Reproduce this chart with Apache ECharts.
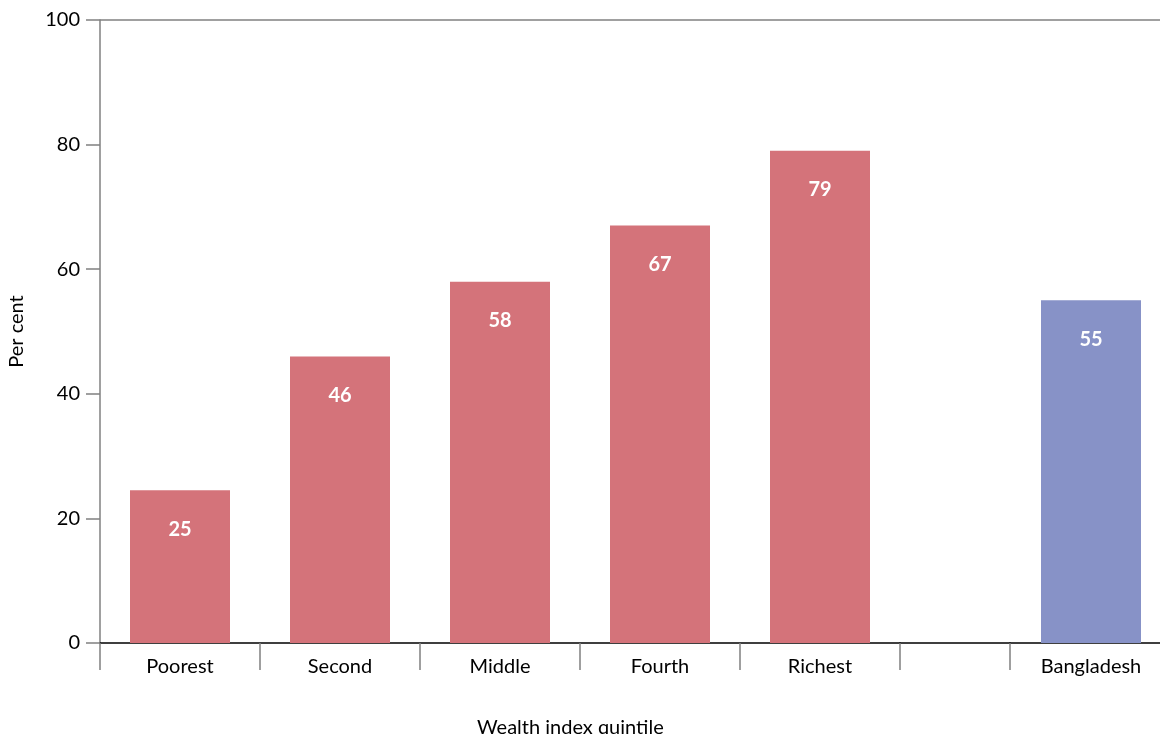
<!DOCTYPE html>
<html><head><meta charset="utf-8">
<script src="https://cdn.jsdelivr.net/npm/echarts@6/dist/echarts.min.js"></script>
<style>html,body{margin:0;padding:0;background:#fff}#c{width:1160px;height:734px}</style>
</head><body><div id="c"></div>
<script>
const quintiles = ['Poorest', 'Second', 'Middle', 'Fourth', 'Richest'];
const quintileValues = [24.5, 46, 58, 67, 79];
const nationalLabel = ['Bangladesh'];
const nationalValue = [55];
const yMin = 0, yMax = 100, yStep = 20;
const xTitle = 'Wealth index quintile';
const yTitle = 'Per cent';

const FONT = 'Lato';
const RED = '#D4737A', BLUE = '#8792C7', GREY = '#808080';
const T = 'rgba(0,0,0,0)';
const topBorder = [T, T, T, T, T, GREY];

function yAx(grid, visible) {
  return {
    type: 'value', gridIndex: grid, min: yMin, max: yMax, interval: yStep,
    axisLine: { show: visible, lineStyle: { color: GREY, width: 1.5 } },
    axisTick: { show: visible, length: 14, lineStyle: { color: GREY, width: 1.5 } },
    axisLabel: { show: visible, fontFamily: FONT, fontSize: 20, color: '#000', margin: 20 },
    splitLine: { show: true, lineStyle: { color: topBorder, width: 1.5 } },
    name: visible ? yTitle : '', nameLocation: 'middle', nameGap: 73,
    nameTextStyle: { fontFamily: FONT, fontSize: 20, color: '#000' }
  };
}
function xAx(grid, data, ticks) {
  return {
    type: 'category', gridIndex: grid, data: data,
    axisLine: { show: true, lineStyle: { color: '#000', width: 1.5 } },
    axisTick: { show: ticks, length: 27, lineStyle: { color: GREY, width: 1.5 } },
    axisLabel: { show: ticks, fontFamily: FONT, fontSize: 20, color: '#000', margin: 14 }
  };
}
const barLabel = {
  show: true, position: 'insideTop', distance: 29,
  fontFamily: FONT, fontSize: 20, fontWeight: 'bold', color: '#fff',
  formatter: p => Math.round(p.value)
};
const G = { top: 20, bottom: 91, outerBoundsMode: 'none', containLabel: false };

const chart = echarts.init(document.getElementById('c'), null, { renderer: 'canvas' });
chart.setOption({
  backgroundColor: '#fff',
  animation: false,
  title: { text: xTitle, left: 472, top: 713, textStyle: { fontFamily: FONT, fontSize: 20, fontWeight: 'normal', color: '#000' } },
  grid: [
    Object.assign({ left: 100, width: 800 }, G),
    Object.assign({ left: 900, width: 110 }, G),
    Object.assign({ left: 1010, width: 162 }, G)
  ],
  xAxis: [xAx(0, quintiles, true), xAx(1, [''], false), xAx(2, nationalLabel, true)],
  yAxis: [yAx(0, true), yAx(1, false), yAx(2, false)],
  series: [
    { type: 'bar', xAxisIndex: 0, yAxisIndex: 0, data: quintileValues, barWidth: 100, itemStyle: { color: RED }, label: barLabel },
    { type: 'bar', xAxisIndex: 2, yAxisIndex: 2, data: nationalValue, barWidth: 100, itemStyle: { color: BLUE }, label: barLabel }
  ]
});
</script></body></html>
